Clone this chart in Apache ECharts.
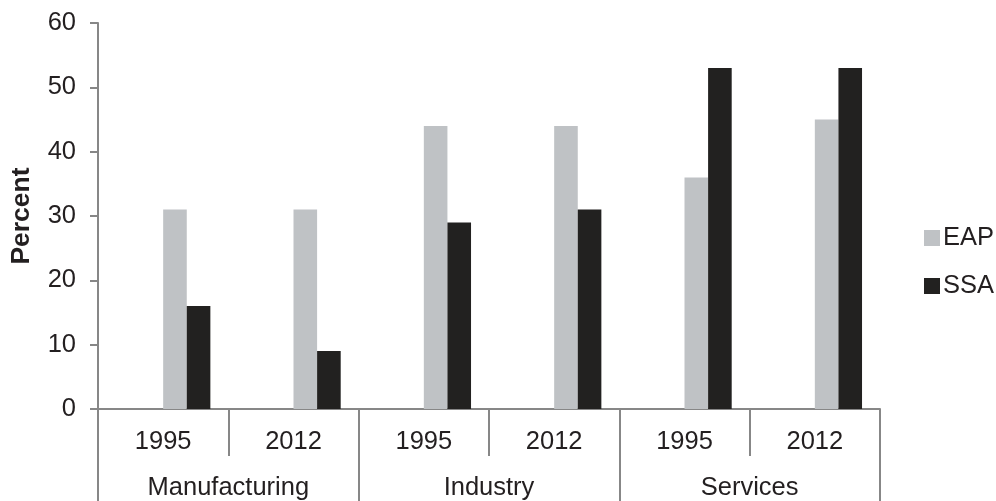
<!DOCTYPE html>
<html>
<head>
<meta charset="utf-8">
<script src="https://cdn.jsdelivr.net/npm/echarts@6/dist/echarts.min.js"></script>
<style>
  html, body { margin: 0; padding: 0; background: #fff; }
  #chart { width: 996px; height: 501px; }
</style>
</head>
<body>
<div id="chart"></div>
<script>
// Sector groups and the years within each group
const sectors = ['Manufacturing', 'Industry', 'Services'];
const years = ['1995', '2012'];
const categories = ['1995', '2012', '1995', '2012', '1995', '2012'];

// Share in percent, ordered Manufacturing 1995/2012, Industry 1995/2012, Services 1995/2012
const eapValues = [31, 31, 44, 44, 36, 45];
const ssaValues = [16, 9, 29, 31, 53, 53];

// Y axis ticks
const yMin = 0, yMax = 60, yStep = 10;

const font = 'Liberation Sans, Arial, sans-serif';
const axisGray = '#878787';
const textColor = '#231f20';
const barW = 23.6;

const chart = echarts.init(document.getElementById('chart'), null, { renderer: 'canvas' });

// Two empty slots come first in each group so the visible pair sits right of centre
const emptySlot = name => ({
  name, type: 'bar', data: categories.map(() => null),
  barWidth: barW, barGap: '0%', silent: true, itemStyle: { color: 'transparent' }
});

chart.setOption({
  animation: false,
  backgroundColor: '#ffffff',
  textStyle: { fontFamily: font, color: textColor },
  grid: { left: 97, right: 116, top: 23, bottom: 91, containLabel: false },
  legend: {
    data: ['EAP', 'SSA'],
    orient: 'vertical',
    left: 919,
    top: 220,
    itemWidth: 16,
    itemHeight: 16,
    itemGap: 22,
    icon: 'rect',
    textStyle: { fontFamily: font, fontSize: 25.5, color: textColor, padding: [0, 0, 0, -2] }
  },
  xAxis: [
    {
      type: 'category',
      data: categories,
      position: 'bottom',
      axisLine: { show: true, lineStyle: { color: axisGray, width: 2 } },
      axisTick: { show: true, length: 47, lineStyle: { color: axisGray, width: 2 } },
      axisLabel: { fontFamily: font, fontSize: 25.5, color: textColor, margin: 20 },
      splitLine: { show: false }
    },
    {
      type: 'category',
      data: sectors,
      position: 'bottom',
      axisLine: { show: false },
      axisTick: { show: true, length: 100, lineStyle: { color: axisGray, width: 2 } },
      axisLabel: { fontFamily: font, fontSize: 25.5, color: textColor, margin: 66 },
      splitLine: { show: false }
    }
  ],
  yAxis: {
    type: 'value',
    min: yMin,
    max: yMax,
    interval: yStep,
    name: 'Percent',
    nameLocation: 'middle',
    nameRotate: 90,
    nameGap: 63,
    nameTextStyle: { fontFamily: font, fontSize: 26.5, fontWeight: 'bold', color: textColor },
    axisLine: { show: true, lineStyle: { color: axisGray, width: 2 } },
    axisTick: { show: true, length: 8, lineStyle: { color: axisGray, width: 2 } },
    axisLabel: { fontFamily: font, fontSize: 25.5, color: textColor, margin: 22 },
    splitLine: { show: false }
  },
  series: [
    emptySlot('slotA'),
    emptySlot('slotB'),
    {
      name: 'EAP', type: 'bar', data: eapValues, barWidth: barW, barGap: '0%',
      itemStyle: { color: '#bfc2c5' }
    },
    {
      name: 'SSA', type: 'bar', data: ssaValues, barWidth: barW, barGap: '0%',
      itemStyle: { color: '#222120' }
    }
  ]
});
</script>
</body>
</html>
